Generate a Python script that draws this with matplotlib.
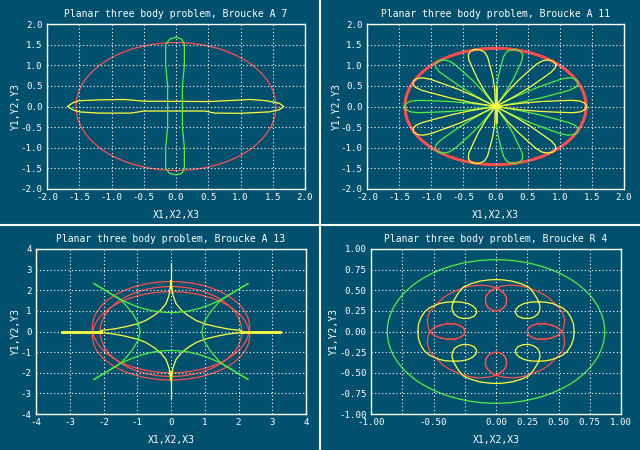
import numpy as np
import matplotlib
matplotlib.use("Agg")
import matplotlib.pyplot as plt
from matplotlib.patches import Ellipse
from matplotlib.lines import Line2D

BG = '#00506e'
RED = '#ff4d4d'
YELLOW = '#ffff40'
GREEN = '#50f040'

plt.rcParams['font.family'] = ['DejaVu Sans Mono']
plt.rcParams['axes.unicode_minus'] = False

# ---- Broucke A 7 ----
a7_red_radius = 1.55
a7_yellow_x = [-1.68, -1.60, -1.50, -1.20, -0.80, -0.50, 0.50, 0.90, 1.15, 1.40, 1.60, 1.67,
               1.60, 1.45, 1.00, 0.60, 0.45, -0.50, -0.70, -1.20, -1.50, -1.60, -1.68]
a7_yellow_y = [0.00, 0.09, 0.14, 0.16, 0.17, 0.13, 0.12, 0.15, 0.17, 0.14, 0.08, 0.00,
               -0.08, -0.13, -0.165, -0.16, -0.11, -0.11, -0.16, -0.16, -0.13, -0.08, 0.00]
a7_green_x = [0.00, 0.09, 0.13, 0.13, 0.10, 0.10, 0.10, 0.13, 0.13, 0.09, 0.00,
              -0.10, -0.16, -0.16, -0.13, -0.13, -0.13, -0.16, -0.16, -0.10, 0.00]
a7_green_y = [1.68, 1.63, 1.50, 1.00, 0.50, 0.00, -0.50, -1.00, -1.50, -1.62, -1.66,
              -1.62, -1.50, -1.00, -0.50, 0.00, 0.50, 1.00, 1.50, 1.63, 1.68]

# ---- Broucke A 11 ----
a11_red_radius = 1.41
a11_petal_r = [0.0, 0.15, 0.40, 0.70, 1.00, 1.20, 1.32, 1.39, 1.42]
a11_petal_w = [0.0, 0.03, 0.08, 0.12, 0.14, 0.15, 0.13, 0.08, 0.00]
a11_yellow_angles = [0, 51, 103, 154, 206, 257, 309]
a11_green_angles = [26, 77, 129, 180, 231, 283, 334]
a11_center_y = [-0.41, 0.48]

# ---- Broucke A 13 ----
a13_red_cy = [0.21, -0.21, 0.00]
a13_red_ax = [2.33, 2.33, 2.10]
a13_red_ay = [2.21, 2.14, 2.18]
a13_cusp_x = [0.02, 0.06, 0.15, 0.30, 0.50, 0.75, 1.00, 1.35, 1.70, 2.08]
a13_cusp_y = [2.20, 1.75, 1.35, 1.05, 0.78, 0.53, 0.37, 0.23, 0.12, 0.05]
a13_hline_x = [2.08, 3.24]
a13_vline_top = [2.15, 3.31]
a13_vline_bot = [-2.05, -3.21]
a13_green_top_x = [-2.28, -1.90, -1.46, -1.15, -0.85, -0.50, -0.20, 0.00]
a13_green_top_y = [2.32, 1.95, 1.52, 1.30, 1.12, 0.99, 0.93, 0.92]
a13_green_side_x = [-2.28, -1.90, -1.46, -1.30, -1.14, -0.98, -0.91]
a13_green_side_y = [2.32, 1.95, 1.50, 1.20, 0.88, 0.45, 0.00]

# ---- Broucke R 4 ----
r4_green_radius = 0.87
r4_yel_top_x = [-0.34, -0.32, -0.30, -0.26, -0.20, -0.13, -0.06, 0.00]
r4_yel_top_y = [0.37, 0.42, 0.47, 0.54, 0.58, 0.61, 0.625, 0.63]
r4_yel_side_x = [-0.34, -0.40, -0.45, -0.53, -0.57, -0.60, -0.62, -0.625]
r4_yel_side_y = [0.36, 0.355, 0.34, 0.29, 0.24, 0.17, 0.09, 0.00]
r4_yel_loop_x = [-0.34, -0.352, -0.35, -0.335, -0.30, -0.26, -0.215, -0.175, -0.155,
                 -0.16, -0.185, -0.225, -0.28, -0.34]
r4_yel_loop_y = [0.36, 0.31, 0.26, 0.21, 0.172, 0.157, 0.16, 0.185, 0.225,
                 0.27, 0.31, 0.34, 0.357, 0.36]
r4_red_arc_x = [-0.53, -0.545, -0.55, -0.54, -0.52, -0.47, -0.42, -0.37, -0.31, -0.26,
                -0.20, -0.155, -0.10, -0.05, 0.00]
r4_red_arc_y = [0.00, 0.07, 0.14, 0.20, 0.26, 0.34, 0.41, 0.46, 0.50, 0.53,
                0.55, 0.56, 0.56, 0.55, 0.53]
r4_red_top_x = [0.00, 0.035, 0.065, 0.082, 0.085, 0.080, 0.060, 0.032, 0.00,
                -0.032, -0.060, -0.080, -0.085, -0.082, -0.065, -0.035, 0.00]
r4_red_top_y = [0.53, 0.50, 0.46, 0.42, 0.38, 0.33, 0.285, 0.258, 0.25,
                0.258, 0.285, 0.33, 0.38, 0.42, 0.46, 0.50, 0.53]
r4_red_side_x = [-0.53, -0.49, -0.44, -0.38, -0.32, -0.28, -0.255, -0.25,
                 -0.255, -0.28, -0.32, -0.38, -0.44, -0.49, -0.53]
r4_red_side_y = [0.00, 0.05, 0.08, 0.095, 0.09, 0.065, 0.035, 0.00,
                 -0.035, -0.065, -0.09, -0.095, -0.08, -0.05, 0.00]

LW = 0.9


def mirrored(ax, xs, ys, color, lw=LW):
    x = np.array(xs)
    y = np.array(ys)
    for sx, sy in [(1, 1), (-1, 1), (1, -1), (-1, -1)]:
        ax.plot(sx * x, sy * y, color=color, lw=lw)


def setup(ax, lim, ticks, xlabels, ylabels, title, ylab_x):
    ax.set_facecolor(BG)
    ax.set_xlim(-lim, lim)
    ax.set_ylim(-lim, lim)
    ax.set_xticks(ticks)
    ax.set_xticklabels(xlabels)
    ax.set_yticks(ticks)
    ax.set_yticklabels(ylabels)
    ax.grid(True, color='white', linestyle=(0, (1, 2.2)), linewidth=0.8)
    for s in ax.spines.values():
        s.set_color('white')
        s.set_linewidth(1.0)
    ax.tick_params(colors='white', labelsize=6.6, length=0, pad=3)
    ax.set_title(title, color='white', fontsize=7, pad=5)
    ax.set_xlabel('X1,X2,X3', color='white', fontsize=7)
    ax.set_ylabel('Y1,Y2,Y3', color='white', fontsize=7)
    ax.xaxis.set_label_coords(0.5, -0.125)
    ax.yaxis.set_label_coords(ylab_x, 0.5)


fig = plt.figure(figsize=(6.4, 4.5), dpi=100)
fig.patch.set_facecolor(BG)

ax1 = fig.add_axes([47 / 640, 0.58, 258 / 640, 165 / 450])
ax2 = fig.add_axes([367 / 640, 0.58, 257 / 640, 165 / 450])
ax3 = fig.add_axes([36 / 640, 0.08, 270 / 640, 165 / 450])
ax4 = fig.add_axes([371 / 640, 0.08, 250 / 640, 165 / 450])

t2 = np.arange(-2.0, 2.01, 0.5)
lab2 = ['%.1f' % v for v in t2]

# A 7
setup(ax1, 2.0, t2, lab2, lab2, 'Planar three body problem, Broucke A 7', -0.10)
ax1.add_patch(Ellipse((0, 0), 2 * a7_red_radius, 2 * a7_red_radius, fill=False, edgecolor=RED, lw=LW))
ax1.plot(a7_yellow_x, a7_yellow_y, color=YELLOW, lw=LW)
ax1.plot(a7_green_x, a7_green_y, color=GREEN, lw=LW)

# A 11
setup(ax2, 2.0, t2, lab2, lab2, 'Planar three body problem, Broucke A 11', -0.10)
ax2.add_patch(Ellipse((0, 0), 2 * a11_red_radius, 2 * a11_red_radius, fill=False, edgecolor=RED, lw=2.2))
pr = np.array(a11_petal_r)
pw = np.array(a11_petal_w)
rr = np.concatenate([pr, pr[::-1]])
ww = np.concatenate([pw, -pw[::-1]])
for angles, col in [(a11_green_angles, GREEN), (a11_yellow_angles, YELLOW)]:
    for a in angles:
        th = np.radians(a)
        ax2.plot(rr * np.cos(th) - ww * np.sin(th), rr * np.sin(th) + ww * np.cos(th), color=col, lw=LW)
ax2.plot([0.02, 0.02], a11_center_y, color=YELLOW, lw=1.2)

# A 13
t3 = np.arange(-4, 5, 1)
lab3 = ['%d' % v for v in t3]
setup(ax3, 4.0, t3, lab3, lab3, 'Planar three body problem, Broucke A 13', -0.056)
for cy, a, b in zip(a13_red_cy, a13_red_ax, a13_red_ay):
    ax3.add_patch(Ellipse((0, cy), 2 * a, 2 * b, fill=False, edgecolor=RED, lw=LW))
mirrored(ax3, a13_cusp_x, a13_cusp_y, YELLOW)
for s in (1, -1):
    ax3.plot([s * a13_hline_x[0], s * a13_hline_x[1]], [0, 0], color=YELLOW, lw=2.0)
ax3.plot([0, 0], a13_vline_top, color=YELLOW, lw=LW)
ax3.plot([0, 0], a13_vline_bot, color=YELLOW, lw=LW)
ax3.plot([0, 0], [2.13, 2.45], color=YELLOW, lw=1.6)
ax3.plot([0, 0], [-1.95, -2.35], color=YELLOW, lw=1.6)
mirrored(ax3, a13_green_top_x, a13_green_top_y, GREEN)
mirrored(ax3, a13_green_side_x, a13_green_side_y, GREEN)

# R 4
t4 = np.arange(-1.0, 1.01, 0.25)
xlab4 = ['%.2f' % v if abs(v) not in (0.75, 0.25) or v > 0 else '' for v in t4]
ylab4 = ['%.2f' % v for v in t4]
setup(ax4, 1.0, t4, xlab4, ylab4, 'Planar three body problem, Broucke R 4', -0.128)
ax4.add_patch(Ellipse((0, 0), 2 * r4_green_radius, 2 * r4_green_radius, fill=False, edgecolor=GREEN, lw=LW))
mirrored(ax4, r4_red_arc_x, r4_red_arc_y, RED)
mirrored(ax4, r4_red_top_x, r4_red_top_y, RED)
mirrored(ax4, r4_red_side_x, r4_red_side_y, RED)
mirrored(ax4, r4_yel_top_x, r4_yel_top_y, YELLOW)
mirrored(ax4, r4_yel_side_x, r4_yel_side_y, YELLOW)
mirrored(ax4, r4_yel_loop_x, r4_yel_loop_y, YELLOW)

# panel dividers
fig.add_artist(Line2D([0.5, 0.5], [0, 1], transform=fig.transFigure, color='white', lw=1.5))
fig.add_artist(Line2D([0, 1], [0.5, 0.5], transform=fig.transFigure, color='white', lw=1.5))

fig.savefig('out.png', dpi=100, facecolor=BG)
